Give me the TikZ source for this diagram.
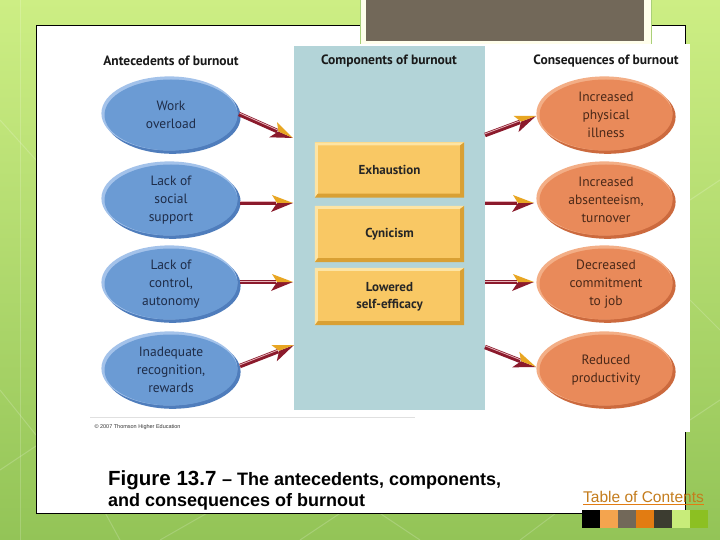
\documentclass[tikz,border=0pt]{standalone}
\usepackage{fontspec}
\usetikzlibrary{calc,shapes.geometric}
\newfontfamily\figfont{PT Sans}
\newfontfamily\capfont{Liberation Sans}
\definecolor{bgtop}{HTML}{CDEE84}
\definecolor{bgbot}{HTML}{93C457}
\definecolor{brownbox}{HTML}{726859}
\definecolor{colblue}{HTML}{B3D4D8}
\definecolor{bluefill}{HTML}{6B9BD4}
\definecolor{bluelight}{HTML}{A3C2EA}
\definecolor{bluedark}{HTML}{4F7DBC}
\definecolor{bluetext}{HTML}{1E2C48}
\definecolor{orfill}{HTML}{E98A5A}
\definecolor{orlight}{HTML}{F3AE86}
\definecolor{ordark}{HTML}{CC6A3E}
\definecolor{ortext}{HTML}{4A2818}
\definecolor{yfill}{HTML}{F9C864}
\definecolor{ylight}{HTML}{FDE4A4}
\definecolor{ydark}{HTML}{D9A034}
\definecolor{arrred}{HTML}{8B1A2C}
\definecolor{arryel}{HTML}{E8A622}
\definecolor{arrstripe}{HTML}{E6B4BA}
\definecolor{tocorange}{HTML}{C47C1C}
\definecolor{sqA}{HTML}{000000}
\definecolor{sqB}{HTML}{F4A44E}
\definecolor{sqC}{HTML}{726859}
\definecolor{sqD}{HTML}{E27C12}
\definecolor{sqE}{HTML}{3C3C30}
\definecolor{sqF}{HTML}{C8EC7A}
\definecolor{sqG}{HTML}{8CC022}
\tikzset{
  ellbase/.style={ellipse, minimum width=133pt, minimum height=71pt, inner sep=0pt,
     align=center, font=\figfont\fontsize{13.5}{18}\selectfont},
  blueell/.style={ellbase, fill=bluefill, text=bluetext},
  orell/.style={ellbase, fill=orfill, text=ortext},
  ybox/.style={rectangle, minimum width=149pt, minimum height=55pt, inner sep=0pt,
     fill=yfill},
  boxtext/.style={font=\figfont\bfseries\fontsize{13}{17}\selectfont, align=center, text=black!85},
  header/.style={font=\figfont\bfseries\fontsize{13.5}{15}\selectfont, text=black!90},
  arrshaft/.style={draw=arrred, line width=4.5pt},
  arrline/.style={draw=arrstripe, line width=0.8pt},
}
\newcommand\ellrim[3]{% x,y ; light ; dark
  \fill[#3] ([shift={(1.6pt,-1.8pt)}]#1) ellipse [x radius=68pt, y radius=37pt];
  \fill[#2] ([shift={(-1.6pt,1.6pt)}]#1) ellipse [x radius=68pt, y radius=37pt];
}
\newcommand\bevel[1]{%
  \fill[ylight] (#1.north west) -- (#1.north east) -- ([shift={(-4pt,-3pt)}]#1.north east)
     -- ([shift={(3pt,-3pt)}]#1.north west) -- ([shift={(3pt,4pt)}]#1.south west) -- (#1.south west) -- cycle;
  \fill[ydark] (#1.south west) -- (#1.south east) -- (#1.north east) -- ([shift={(-4pt,-3pt)}]#1.north east)
     -- ([shift={(-4pt,4pt)}]#1.south east) -- ([shift={(3pt,4pt)}]#1.south west) -- cycle;
}
\newcommand\burnarrow[2]{%
  \pgfpointdiff{\pgfpointanchor{#1}{center}}{\pgfpointanchor{#2}{center}}%
  \pgfgetlastxy\bax\bay
  \pgfmathsetmacro\bang{atan2(\bay,\bax)}%
  \pgfmathsetmacro\blen{veclen(\bax,\bay)}%
  \begin{scope}[shift={(#1)},rotate=\bang]
    \draw[arrshaft] (0pt,0pt) -- (\blen pt-17pt,0pt);
    \draw[arrline] (0pt,1.1pt) -- (\blen pt-17pt,1.1pt);
    \fill[arrred] (\blen pt,0pt) -- (\blen pt-22pt,-9pt) -- (\blen pt-16pt,0pt) -- cycle;
    \fill[arryel] (\blen pt,0pt) -- (\blen pt-21pt,8pt) -- (\blen pt-16pt,0pt) -- cycle;
  \end{scope}}
\begin{document}
\begin{tikzpicture}[x=1pt,y=-1pt]
\useasboundingbox (0,0) rectangle (720,540);
% background
\shade[top color=bgtop, bottom color=bgbot] (0,0) rectangle (720,540);
\begin{scope}[draw=white, opacity=0.18, line width=1pt]
  \draw (0,470) -- (60,430) -- (120,540);
  \draw (0,390) -- (40,440);
  \draw (160,540) -- (230,500);
  \draw (300,540) -- (360,500) -- (420,540);
  \draw (520,540) -- (560,510);
  \draw (690,200) -- (720,180);
  \draw (690,300) -- (720,330);
  \draw (690,420) -- (720,400);
  \draw (20,0) -- (20,540);
  \draw (0,120) -- (36,160);
\end{scope}
% content panel
\draw[fill=white, draw=black, line width=1pt] (36,26) rectangle (685,513);
% top brown box
\fill[white!92!yellow, draw=bgbot!80, line width=0.8pt] (360,-2) rectangle (651,44);
\fill[brownbox] (366,-2) rectangle (644,41);
% figure area
\fill[white] (88,44) rectangle (690,432);
\fill[colblue] (294,46) rectangle (485,410);
\draw[black!12, line width=0.8pt] (90,417) -- (415,417);
\node[anchor=west, font=\capfont\fontsize{5.5}{6}\selectfont, text=black!80] (copy) at (91,427) {\textcopyright{} 2007 Thomson Higher Education};
% headers
\node[header] (h1) at (171,61) {Antecedents of burnout};
\node[header] (h2) at (389,61) {Components of burnout};
\node[header] (h3) at (606,61) {Consequences of burnout};
% antecedents
\ellrim{171,115}{bluelight}{bluedark}
\node[blueell] (b1) at (171,115) {Work\\overload};
\ellrim{171,200}{bluelight}{bluedark}
\node[blueell] (b2) at (171,200) {Lack of\\social\\support};
\ellrim{171,284}{bluelight}{bluedark}
\node[blueell] (b3) at (171,284) {Lack of\\control,\\autonomy};
\ellrim{171,370}{bluelight}{bluedark}
\node[blueell] (b4) at (171,370) {Inadequate\\recognition,\\rewards};
% consequences
\ellrim{606,115}{orlight}{ordark}
\node[orell] (o1) at (606,115) {Increased\\physical\\illness};
\ellrim{606,200}{orlight}{ordark}
\node[orell] (o2) at (606,200) {Increased\\absenteeism,\\turnover};
\ellrim{606,284}{orlight}{ordark}
\node[orell] (o3) at (606,284) {Decreased\\commitment\\to job};
\ellrim{606,370}{orlight}{ordark}
\node[orell] (o4) at (606,370) {Reduced\\productivity};
% components
\node[ybox] (c1) at (389.5,170) {};
\bevel{c1}
\node[boxtext] (t1) at (c1) {Exhaustion};
\node[ybox, minimum height=56pt] (c2) at (389.5,234) {};
\bevel{c2}
\node[boxtext] (t2) at (c2) {Cynicism};
\node[ybox, minimum height=57pt] (c3) at (389.5,296.5) {};
\bevel{c3}
\node[boxtext] (t3) at (c3) {Lowered\\self-efficacy};
% arrow end points
\coordinate (a1s) at (239,114); \coordinate (a1e) at (293,138);
\coordinate (a2s) at (240,203); \coordinate (a2e) at (293,203);
\coordinate (a3s) at (240,282); \coordinate (a3e) at (293,282);
\coordinate (a4s) at (240,366); \coordinate (a4e) at (294,345);
\coordinate (r1s) at (485,135); \coordinate (r1e) at (536,116);
\coordinate (r2s) at (485,203); \coordinate (r2e) at (534,203);
\coordinate (r3s) at (485,282); \coordinate (r3e) at (534,282);
\coordinate (r4s) at (485,347); \coordinate (r4e) at (536,367);
\burnarrow{a1s}{a1e}
\burnarrow{a2s}{a2e}
\burnarrow{a3s}{a3e}
\burnarrow{a4s}{a4e}
\burnarrow{r1s}{r1e}
\burnarrow{r2s}{r2e}
\burnarrow{r3s}{r3e}
\burnarrow{r4s}{r4e}
% caption
\node[anchor=base west, inner sep=0pt, font=\capfont\bfseries, text=black] (cap1) at (108,485)
  {\fontsize{20.5}{22}\selectfont Figure 13.7 \fontsize{18}{20}\selectfont – The antecedents, components,};
\node[anchor=base west, inner sep=0pt, font=\capfont\bfseries, text=black] (cap2) at (108,506)
  {\fontsize{18}{20}\selectfont and consequences of burnout};
% table of contents
\node[anchor=base west, inner sep=0pt, font=\capfont\fontsize{15.5}{17}\selectfont, text=tocorange] (toc) at (583,502) {Table of Contents};
\draw[draw=sqD, line width=1pt] ([yshift=-2pt]toc.base west) -- ([yshift=-2pt]toc.base east);
% colour squares
\foreach \c [count=\i from 0] in {sqA,sqB,sqC,sqD,sqE,sqF,sqG}
  \fill[\c] (582+18*\i,510) rectangle ++(18,18);
\end{tikzpicture}
\end{document}
